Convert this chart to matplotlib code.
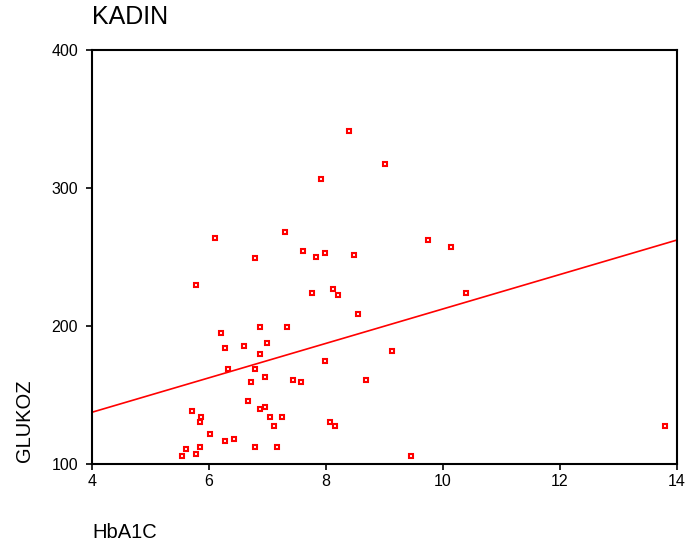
import matplotlib
matplotlib.use("Agg")
import matplotlib.pyplot as plt
import numpy as np

# HbA1C vs GLUKOZ, women ("KADIN")
hba1c = [
    7.92, 6.10, 7.30, 7.60, 7.83, 7.99, 6.79, 5.78, 7.76, 8.12, 8.21,
    6.20, 6.88, 7.34, 6.27, 6.59, 6.99, 6.88, 7.99, 6.33, 6.79, 6.95,
    6.72, 7.44, 7.57, 6.66, 5.71, 6.88, 6.95, 5.87, 5.84, 7.05, 7.25,
    7.11, 8.06, 8.15, 6.01, 6.27, 6.43, 5.61, 5.84, 6.79, 7.17, 5.54,
    5.78, 8.39, 9.00, 9.75, 10.14, 8.48, 10.40, 8.55, 9.13, 8.68, 9.46,
    13.79,
]
glukoz = [
    306.5, 264, 268, 254, 250, 253, 249, 229.5, 224, 227, 222.7,
    195, 199, 199, 184, 185.5, 188, 180, 174.4, 169, 168.8, 163.3,
    159.4, 160.6, 159.4, 145.4, 138.6, 140, 141.3, 134.3, 130.2, 134.3, 134.3,
    127.5, 130.2, 127.5, 122, 116.4, 117.9, 110.9, 112.3, 112.3, 112.3, 105.6,
    107, 341, 317.6, 262.5, 257, 251.4, 224, 208.7, 181.7, 160.6, 105.6,
    127.5,
]
# fit line (value at x=4 and x=14)
fit_x = [4, 14]
fit_y = [137.5, 262.3]

x_ticks = [4, 6, 8, 10, 12, 14]
y_ticks = [100, 200, 300, 400]

plt.rcParams["font.family"] = ["Liberation Sans", "DejaVu Sans"]

fig = plt.figure(figsize=(6.85, 5.51), dpi=100)
ax = fig.add_axes([92 / 685, 1 - 464 / 551, 585 / 685, 414 / 551])

ax.plot(fit_x, fit_y, color="#ff0000", lw=1.2, zorder=2)
ax.plot(hba1c, glukoz, ls="none", marker="s", ms=3.3, mew=1.5,
        mec="#ff0000", mfc="white", zorder=3)

ax.set_xlim(4, 14)
ax.set_ylim(100, 400)
ax.set_xticks(x_ticks)
ax.set_yticks(y_ticks)
ax.tick_params(labelsize=11.5, length=4, width=1.2, color="black")
ax.tick_params(axis="x", pad=3)
ax.tick_params(axis="y", pad=6)
for s in ax.spines.values():
    s.set_linewidth(1.5)

fig.text(92 / 685, 1 - 17 / 551, "KADIN", fontsize=18, ha="left", va="center")
fig.text(92 / 685, 1 - 532 / 551, "HbA1C", fontsize=14.5, ha="left", va="center")
fig.text(25 / 685, 1 - 462 / 551, "GLUKOZ", fontsize=14.5, rotation=90,
         ha="center", va="bottom")

fig.savefig("out.png", dpi=100)
